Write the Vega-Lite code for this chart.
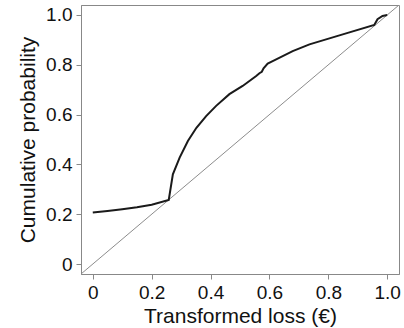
{
  "$schema": "https://vega.github.io/schema/vega-lite/v6.json",
  "width": 318,
  "height": 269,
  "autosize": "none",
  "padding": {"left": 81, "top": 5, "right": 5, "bottom": 54},
  "background": "white",
  "config": {
    "view": {"stroke": "#888888", "strokeWidth": 1},
    "font": "Liberation Sans",
    "axis": {
      "grid": false,
      "domainColor": "#888888",
      "tickColor": "#888888",
      "tickSize": 5,
      "labelFont": "Liberation Sans",
      "titleFont": "Liberation Sans",
      "labelFontSize": 19,
      "titleFontSize": 21,
      "labelColor": "#111111",
      "titleColor": "#111111",
      "titleFontWeight": "normal",
      "labelPadding": 4
    }
  },
  "datasets": {
    "diag": [
      {"x": -0.04, "y": -0.04},
      {"x": 1.04, "y": 1.04}
    ],
    "curve": [
      {"x": 0.0, "y": 0.207},
      {"x": 0.05, "y": 0.213},
      {"x": 0.1, "y": 0.22},
      {"x": 0.15, "y": 0.228},
      {"x": 0.2, "y": 0.238},
      {"x": 0.258, "y": 0.257},
      {"x": 0.272, "y": 0.36},
      {"x": 0.295, "y": 0.427},
      {"x": 0.323, "y": 0.494},
      {"x": 0.352, "y": 0.547},
      {"x": 0.385, "y": 0.594},
      {"x": 0.419, "y": 0.635},
      {"x": 0.464, "y": 0.682},
      {"x": 0.509, "y": 0.715},
      {"x": 0.555, "y": 0.755},
      {"x": 0.566, "y": 0.766},
      {"x": 0.574, "y": 0.772},
      {"x": 0.58, "y": 0.786},
      {"x": 0.594, "y": 0.805},
      {"x": 0.611, "y": 0.815},
      {"x": 0.679, "y": 0.855},
      {"x": 0.736, "y": 0.882},
      {"x": 0.849, "y": 0.922},
      {"x": 0.956, "y": 0.96},
      {"x": 0.967, "y": 0.983},
      {"x": 0.984, "y": 0.996},
      {"x": 1.0, "y": 1.0}
    ]
  },
  "layer": [
    {
      "data": {"name": "diag"},
      "mark": {"type": "line", "color": "#8c8c8c", "strokeWidth": 1, "clip": true},
      "encoding": {
        "x": {
          "field": "x", "type": "quantitative",
          "scale": {"domain": [-0.04, 1.04], "nice": false, "zero": false},
          "axis": {
            "title": "Transformed loss (€)",
            "values": [0, 0.2, 0.4, 0.6, 0.8, 1.0],
            "labelExpr": "datum.value == 0 ? '0' : format(datum.value, '.1f')",
            "titlePadding": 3
          }
        },
        "y": {
          "field": "y", "type": "quantitative",
          "scale": {"domain": [-0.04, 1.04], "nice": false, "zero": false},
          "axis": {
            "title": "Cumulative probability",
            "values": [0, 0.2, 0.4, 0.6, 0.8, 1.0],
            "labelExpr": "datum.value == 0 ? '0' : format(datum.value, '.1f')",
            "titlePadding": 7
          }
        }
      }
    },
    {
      "data": {"name": "curve"},
      "mark": {"type": "line", "color": "#1a1a1a", "strokeWidth": 2, "clip": true},
      "encoding": {
        "x": {"field": "x", "type": "quantitative"},
        "y": {"field": "y", "type": "quantitative"}
      }
    }
  ]
}
